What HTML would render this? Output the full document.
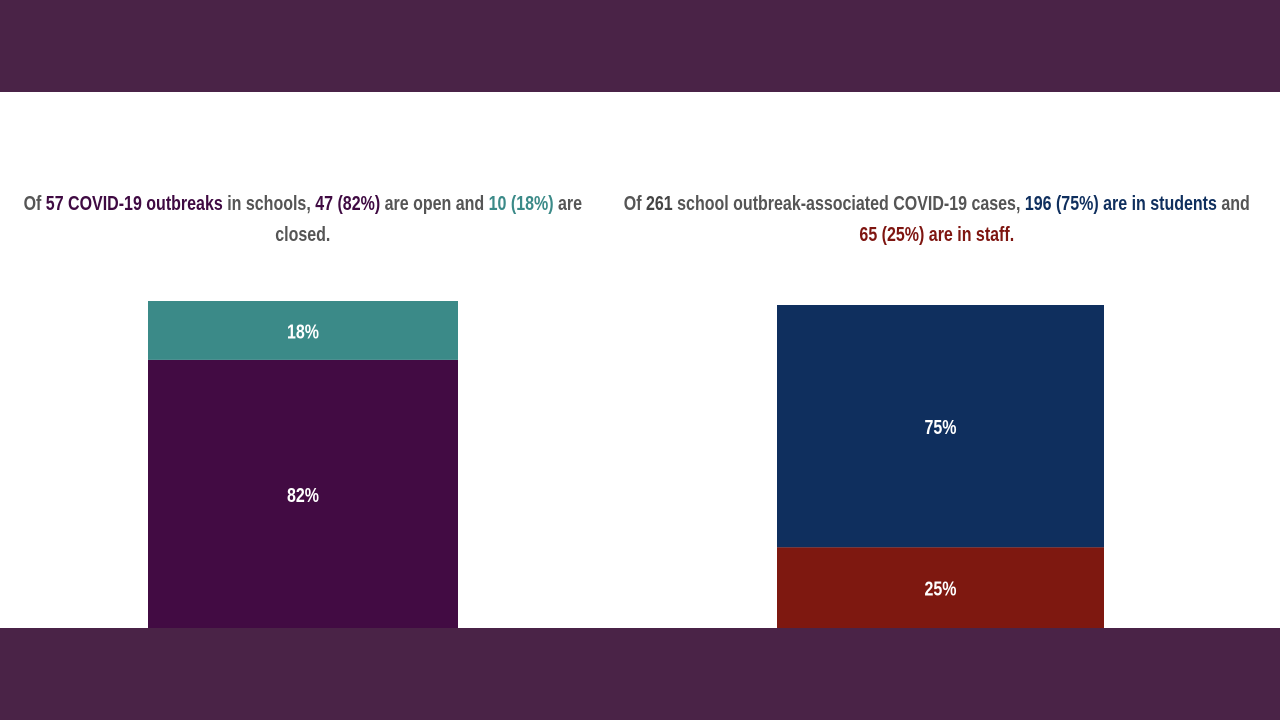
<!DOCTYPE html>
<html><head><meta charset="utf-8"><style>
body{margin:0;width:1280px;height:720px;position:relative;overflow:hidden;background:#fff;font-family:"Liberation Sans",sans-serif;}
.band{position:absolute;left:0;width:1280px;background:#4a2347;}
.title{position:absolute;text-align:center;font-size:20px;font-weight:bold;color:#555;line-height:31px;transform:scaleX(0.8);transform-origin:left top;white-space:nowrap;}
.b{font-weight:900;}
svg{position:absolute;left:0;top:0;}
</style></head><body>
<div class="band" style="top:0;height:92px"></div>
<div class="title" style="left:10px;top:189px;width:732px">Of <span class="b" style="color:#3f0a42">57 COVID-19 outbreaks</span> in schools, <span class="b" style="color:#3f0a42">47 (82%)</span> are open and <span class="b" style="color:#3b8a88">10 (18%)</span> are<br>closed.</div>
<div class="title" style="left:612px;top:189px;width:812px">Of <span class="b" style="color:#444">261</span> school outbreak-associated COVID-19 cases, <span class="b" style="color:#0f2f5e">196 (75%) are in students</span> and<br><span class="b" style="color:#7e1510">65 (25%) are in staff.</span></div>
<svg width="1280" height="720" id="chart"></svg>
<div class="band" style="top:628px;height:92px"></div>
<script>
const leftLabels=["Open","Closed"];
const leftValues=[82,18];
const leftColors=["#420b43","#3b8a88"];
const rightLabels=["Staff","Students"];
const rightValues=[25,75];
const rightColors=["#7e1810","#0f2f5e"];
const svg=document.getElementById('chart');
const NS="http://www.w3.org/2000/svg";
function drawStack(values,colors,labels,x,w,base,top,name){
  const total=values.reduce((a,b)=>a+b,0);
  const scale=v=>v/total*(base-top);
  let y=base;
  values.forEach((v,i)=>{
    const h=scale(v);y-=h;
    const r=document.createElementNS(NS,'rect');
    r.setAttribute('x',x);r.setAttribute('y',y);r.setAttribute('width',w);r.setAttribute('height',h);r.setAttribute('fill',colors[i]);
    
    
    svg.appendChild(r);
    const t=document.createElementNS(NS,'text');
    t.setAttribute('transform','translate('+(x+w/2)+','+(y+h/2+8)+') scale(0.8,1)');
    t.setAttribute('text-anchor','middle');
    t.setAttribute('fill','#fff');t.setAttribute('font-size','20');t.setAttribute('font-weight','bold');
    t.setAttribute('font-family','Liberation Sans, sans-serif');
    t.textContent=v+'%';
    
    
    svg.appendChild(t);
  });
}
drawStack(leftValues,leftColors,leftLabels,148,310,628,301,'outbreaks-bar');
drawStack(rightValues,rightColors,rightLabels,777,327,628,305,'cases-bar');
</script>
</body></html>
